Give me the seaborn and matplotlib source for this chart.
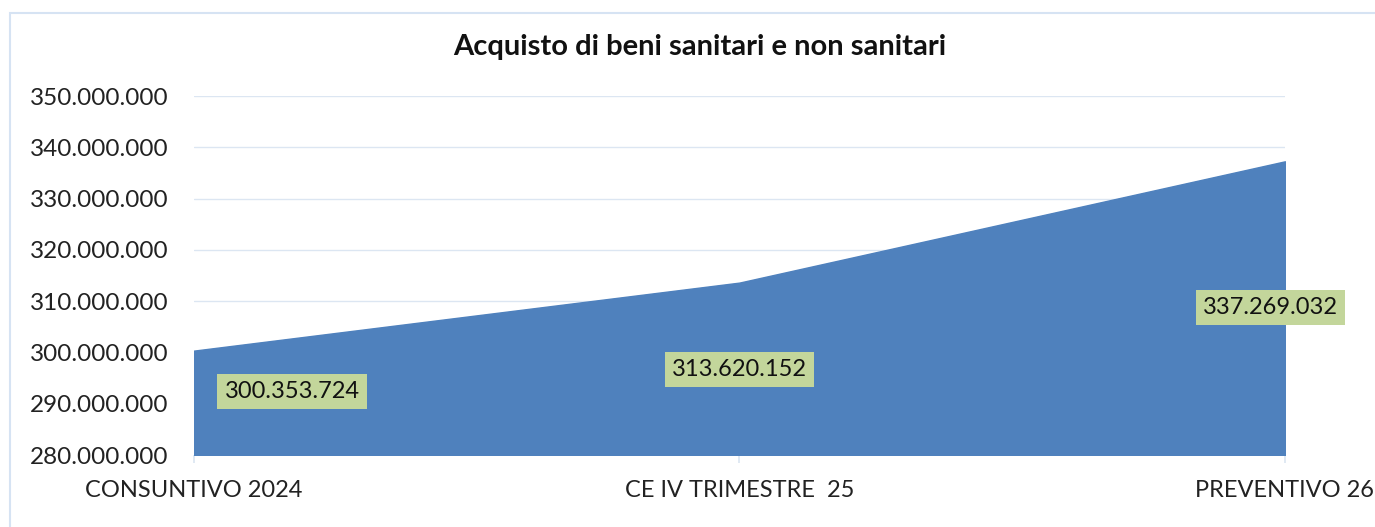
import numpy as np
import pandas as pd
import seaborn as sns
import matplotlib.pyplot as plt
from matplotlib.patches import Rectangle
from matplotlib.ticker import FuncFormatter

categories = ['CONSUNTIVO 2024', 'CE IV TRIMESTRE  25', 'PREVENTIVO 26']
values = [300353724, 313620152, 337269032]
label_texts = ['300.353.724', '313.620.152', '337.269.032']

df = pd.DataFrame({'pos': range(len(categories)), 'valore': values})

sns.set_theme(style='white')
plt.rcParams['font.family'] = ['Lato', 'DejaVu Sans']

fig = plt.figure(figsize=(13.75, 5.27), dpi=100)
ax = fig.add_axes([0.141, 0.1366, 0.7935, 0.6812])

sns.lineplot(data=df, x='pos', y='valore', ax=ax, color='#4F81BD', linewidth=0)
ax.fill_between(df['pos'], df['valore'], 280000000, color='#4F81BD', zorder=2)

ax.set_ylim(280000000, 350000000)
ax.set_xlim(0, len(categories) - 1)
ax.set_yticks(np.arange(280000000, 350000001, 10000000))
ax.yaxis.set_major_formatter(FuncFormatter(lambda v, p: f'{int(v):,}'.replace(',', '.')))
ax.set_xticks(df['pos'])
ax.set_xticklabels(categories)
ax.grid(axis='y', color='#DCE6F2', linewidth=1)
ax.set_axisbelow(True)
for s in ax.spines.values():
    s.set_visible(False)
ax.tick_params(axis='y', labelsize=17.5, colors='#222222', length=0, pad=18)
ax.tick_params(axis='x', labelsize=17, colors='#222222', length=6, color='#DCE6F2',
               bottom=True, pad=12)
ax.set_xlabel('')
ax.set_ylabel('')

# etichette dati (posizioni come nel grafico originale)
offsets = [(0.18, -8000000), (0.0, -17000000), (-0.026, -28500000)]
for i, (txt, (dx, dy)) in enumerate(zip(label_texts, offsets)):
    ax.text(i + dx, values[i] + dy, txt, ha='center', va='center', fontsize=17,
            color='#111111', zorder=5,
            bbox=dict(boxstyle='square,pad=0.3', fc='#C3D69B', ec='none'))

fig.text(0.509, 0.91, 'Acquisto di beni sanitari e non sanitari', ha='center',
         va='center', fontsize=21, fontweight='bold', color='#111111')

fig.patches.append(Rectangle((0.007, -0.01), 1.0, 0.985, transform=fig.transFigure,
                             fill=False, ec='#D6E3F3', lw=1.5))

fig.savefig('out.png', dpi=100)
